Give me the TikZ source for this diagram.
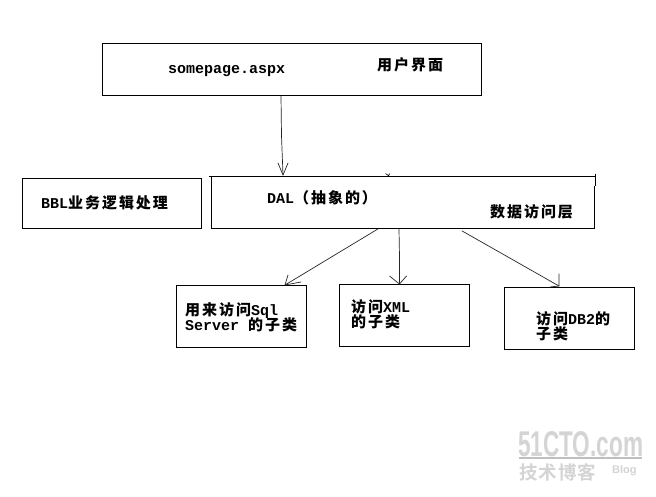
\documentclass[tikz,border=0pt]{standalone}
\usepackage{graphicx}
\usepackage{fontspec}
\setmainfont{Liberation Mono}[BoldFont={Liberation Mono Bold}]
\newfontfamily\cjfont{Noto Sans CJK SC Bold}[LetterSpace=13]
\newfontfamily\wmfont{Liberation Sans Bold}
\newfontfamily\wmcj{Noto Sans CJK SC Bold}[LetterSpace=5]
\newcommand{\cj}[1]{{\cjfont #1}}
\tikzset{
  boxnode/.style={draw=black,line width=0.9pt,fill=white,inner sep=0pt,anchor=north west},
  lbl/.style={inner sep=0pt,anchor=base west,align=left,text=black,font=\fontsize{15}{16}\selectfont\bfseries},
  link/.style={draw=black!85,line width=0.7pt,line cap=round,line join=round},
  wm/.style={inner sep=0pt,anchor=base west,text=black!17}
}
\begin{document}
\begin{tikzpicture}[x=1pt,y=-1pt]
\useasboundingbox (0,0) rectangle (656,496);
\fill[white] (0,0) rectangle (656,496);
% boxes
\node[boxnode,minimum width=379pt,minimum height=52pt] (ui) at (102,43) {};
\node[boxnode,minimum width=179pt,minimum height=50pt] (bbl) at (22,178) {};
\node[boxnode,draw=none,minimum width=383pt,minimum height=52pt] (dal) at (211,176) {};
\node[boxnode,minimum width=130pt,minimum height=62pt] (sql) at (176,285) {};
\node[boxnode,minimum width=130pt,minimum height=62pt] (xml) at (339,284) {};
\node[boxnode,minimum width=130pt,minimum height=62pt] (db) at (504,287) {};
% DAL outline as drawn by hand
\coordinate (dalTL) at ([xshift=-2pt]dal.north west);
\coordinate (dalTR) at ([xshift=1pt]dal.north east);
\draw[black,line width=0.9pt] (dalTL) -- (dalTR);
\draw[black,line width=0.9pt] ([yshift=-1pt]dal.north west) -- (dal.south west) -- (dal.south east) -- ([yshift=-10pt]dal.north east);
\draw[black,line width=0.9pt] ([shift={(1pt,2.5pt)}]dal.north east) -- ([shift={(1pt,-10pt)}]dal.north east);
\coordinate (nick) at ([xshift=177pt]dal.north west);
\draw[black,line width=0.6pt] ([shift={(-2.5pt,2.5pt)}]nick) -- ([shift={(1pt,0pt)}]nick) (nick) -- ([shift={(2pt,2.5pt)}]nick);
% labels
\node[lbl] (t1) at (168,73.5) {somepage.aspx};
\node[lbl] (t2) at (377,70) {\cj{用户界面}};
\node[lbl] (t3) at (41,208) {BBL\cj{业务逻辑处理}};
\node[lbl] (t4) at (267,203) {DAL\cj{（抽象的）}};
\node[lbl] (t5) at (490,217) {\cj{数据访问层}};
\node[lbl,anchor=north west] (t6) at (185,302) {\cj{用来访问}Sql\\[-0.5pt]Server \cj{的子类}};
\node[lbl,anchor=north west] (t7) at (351,299) {\cj{访问}XML\\[-1pt]\cj{的子类}};
\node[lbl,anchor=north west] (t8) at (536,311) {\cj{访问}DB2\cj{的}\\[-1pt]\cj{子类}};
% connectors
\coordinate (a1s) at ([xshift=179pt]ui.south west);
\coordinate (a1e) at ([xshift=72pt]dal.north west);
\draw[link] (a1s) -- ++(0.5,40) -- ([yshift=1pt]a1e);
\draw[link] ([shift={(-5pt,13pt)}]a1e) -- ([yshift=1pt]a1e) -- ([shift={(5pt,13pt)}]a1e);
\coordinate (a2s) at ([xshift=167pt]dal.south west);
\coordinate (a2e) at ([xshift=109pt]sql.north west);
\draw[link] (a2s) -- (a2e);
\draw[link] ([shift={(3pt,10pt)}]a2e) -- (a2e) -- ([shift={(16pt,3pt)}]a2e);
\coordinate (a3s) at ([xshift=188pt]dal.south west);
\coordinate (a3e) at ([xshift=60.5pt]xml.north west);
\draw[link] (a3s) -- ++(0.5,28) -- (a3e);
\draw[link] ([shift={(-10pt,8pt)}]a3e) -- (a3e) -- ([shift={(7pt,8pt)}]a3e);
\coordinate (a4s) at ([xshift=251pt,yshift=-2pt]dal.south west);
\coordinate (a4e) at ([xshift=55pt,yshift=1pt]db.north west);
\draw[link] (a4s) -- (a4e);
\draw[link] ([shift={(-9pt,-1pt)}]a4e) -- (a4e) -- ([shift={(0pt,12pt)}]a4e);
% watermark
\node[wm,font=\wmfont] (w1) at (518,456) {\resizebox{125pt}{25pt}{51CTO.com}};
\coordinate (wl) at (519,458);
\coordinate (wr) at (642,458);
\draw[black!25,line width=1.2pt] (wl) -- (wr);
\node[wm,font=\wmcj\fontsize{18.5}{20}\selectfont] (w2) at (519,479) {技术博客};
\node[wm,font=\wmfont\fontsize{11}{12}\selectfont] (w3) at (612,473) {Blog};
\end{tikzpicture}
\end{document}
